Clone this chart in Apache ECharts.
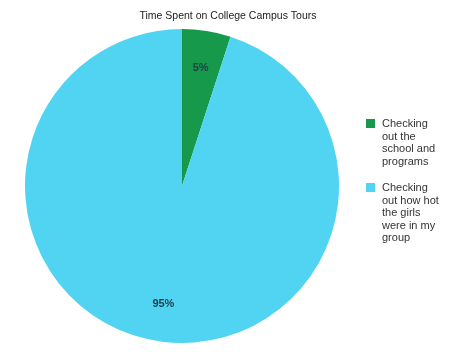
<!DOCTYPE html>
<html><head><meta charset="utf-8">
<script src="https://cdn.jsdelivr.net/npm/echarts@6/dist/echarts.min.js"></script>
<style>html,body{margin:0;padding:0;background:#fff}#c{width:456px;height:352px}</style>
</head><body><div id="c"></div>
<script>
const title = 'Time Spent on College Campus Tours';
const categories = ['Checking out the school and programs', 'Checking out how hot the girls were in my group'];
const legendLines = [['Checking','out the','school and','programs'],['Checking','out how hot','the girls','were in my','group']];
const values = [5, 95];
const colors = ['#16994a', '#50d4f2'];

const chart = echarts.init(document.getElementById('c'), null, {renderer:'canvas'});
const cx = 182, cy = 186, R = 157;
const graphics = [];
let y = 119;
const LH = 12.5;
legendLines.forEach((lines, i) => {
  graphics.push({type:'rect', left:366, top:y, shape:{width:9,height:9}, style:{fill:colors[i]}});
  graphics.push({type:'text', left:382, top:y-1, style:{text:lines.join('\n'), font:'11px "Liberation Sans", Arial, sans-serif', fill:'#333', lineHeight:LH}});
  y += lines.length*LH + 14;
});
chart.setOption({
  animation:false,
  title:{text:title, left:'center', top:6, textStyle:{fontSize:10.5, fontWeight:'normal', color:'#222', fontFamily:'"Liberation Sans", Arial, sans-serif'}},
  graphic: graphics,
  series:[
    {type:'pie', center:[cx,cy], radius:[0,R], startAngle:90, clockwise:true, silent:true,
     label:{show:false}, labelLine:{show:false},
     itemStyle:{borderWidth:0},
     data: categories.map((n,i)=>({name:n, value:values[i], itemStyle:{color:colors[i]}}))},
    {type:'pie', center:[cx,cy], radius:[75,R], startAngle:90, clockwise:true, silent:true,
     label:{show:true, position:'inside', formatter:'{d}%', fontSize:11, fontWeight:'bold', color:'#1d3d4a', fontFamily:'"Liberation Sans", Arial, sans-serif'},
     labelLine:{show:false},
     itemStyle:{color:'rgba(0,0,0,0)', borderWidth:0},
     data: categories.map((n,i)=>({name:n, value:values[i]}))}
  ]
});
</script></body></html>
